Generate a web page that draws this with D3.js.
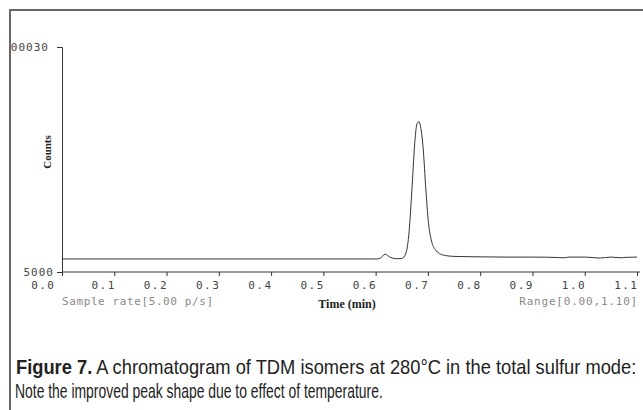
<!DOCTYPE html>
<html>
<head>
<meta charset="utf-8">
<script src="https://cdn.jsdelivr.net/npm/d3@7"></script>
<style>
  body { margin: 0; background: #fff; }
  svg { display: block; }
</style>
</head>
<body>
<div id="chart"></div>
<script>

// chromatogram readings, time in min and counts
var times  = [0.00, 0.600, 0.608, 0.618, 0.628, 0.640, 0.650, 0.658, 0.664, 0.670, 0.675, 0.679, 0.683, 0.687, 0.691, 0.696, 0.701, 0.707, 0.714, 0.722, 0.735, 0.75, 0.80, 0.85, 0.90, 0.95, 0.96, 0.97, 1.00, 1.02, 1.03, 1.05, 1.07, 1.08, 1.10];
var counts = [10500, 10500, 10700, 12500, 11200, 10600, 10700, 13000, 22000, 42000, 60000, 67500, 68500, 65000, 57000, 40000, 26000, 18000, 14500, 12800, 11900, 11600, 11400, 11300, 11300, 11100, 11000, 11300, 11300, 11000, 10900, 11300, 11000, 11200, 11300];

var xTicks = [0, 0.1, 0.2, 0.3, 0.4, 0.5, 0.6, 0.7, 0.8, 0.9, 1.0, 1.1];
var yTicks = [5000, 100030];

var captionBold = "Figure 7.";
var captionRest = " A chromatogram of TDM isomers at 280°C in the total sulfur mode:";
var captionLine2 = "Note the improved peak shape due to effect of temperature.";

var width = 643, height = 410;
var margin = {top: 47, right: 5, bottom: 138, left: 62};

var svg = d3.select("#chart").append("svg")
  .attr("width", width)
  .attr("height", height);

svg.append("rect").attr("width", width).attr("height", height).attr("fill", "#fff");

// chart content is clipped at the frame border
svg.append("clipPath").attr("id", "frameclip")
  .append("rect").attr("x", 11).attr("y", 11).attr("width", width).attr("height", 300);

var g = svg.append("g").attr("clip-path", "url(#frameclip)");

var x = d3.scaleLinear().domain([0, 1.1]).range([margin.left, 637]);
var y = d3.scaleLinear().domain([5000, 100030]).range([272, margin.top]);

var mono = "'DejaVu Sans Mono', monospace";

// y axis
var yAxis = g.append("g")
  .attr("transform", "translate(" + margin.left + ",0)")
  .call(d3.axisLeft(y).tickValues(yTicks).tickSize(5).tickPadding(3).tickFormat(d3.format("d")));
yAxis.select(".domain").attr("stroke", "#333");
yAxis.selectAll(".tick line").attr("stroke", "#333");
yAxis.selectAll(".tick text")
  .attr("font-family", mono)
  .attr("font-size", 11)
  .attr("letter-spacing", 1)
  .attr("fill", "#444")
  .attr("dx", function(d) { return d == 5000 ? 0 : -5; });

// x axis
var xAxis = g.append("g")
  .attr("transform", "translate(0,272)")
  .call(d3.axisBottom(x).tickValues(xTicks).tickSize(4).tickSizeOuter(0).tickPadding(5).tickFormat(d3.format(".1f")));
xAxis.select(".domain").attr("stroke", "#333").attr("d", "M" + margin.left + ",0H640");
xAxis.selectAll(".tick line").attr("stroke", "#333");
xAxis.selectAll(".tick text")
  .attr("font-family", mono)
  .attr("font-size", 11)
  .attr("letter-spacing", 1.5)
  .attr("fill", "#444")
  .attr("text-anchor", "end")
  .attr("dx", function(d, i) { return i == 0 ? -7 : 1; });

// trace
var line = d3.line()
  .x(function(d, i) { return x(times[i]); })
  .y(function(d) { return y(d); })
  .curve(d3.curveMonotoneX);

g.append("path")
  .datum(counts)
  .attr("fill", "none")
  .attr("stroke", "#333")
  .attr("stroke-width", 1)
  .attr("d", line);

// axis titles and instrument notes
g.append("text")
  .attr("x", 62).attr("y", 305)
  .attr("font-family", mono).attr("font-size", 11).attr("letter-spacing", 0.6)
  .attr("fill", "#888")
  .text("Sample rate[5.00 p/s]");

g.append("text")
  .attr("x", 638).attr("y", 305)
  .attr("text-anchor", "end")
  .attr("font-family", mono).attr("font-size", 11).attr("letter-spacing", 0.8)
  .attr("fill", "#888")
  .text("Range[0.00,1.10]");

g.append("text")
  .attr("x", 347).attr("y", 308)
  .attr("text-anchor", "middle")
  .attr("font-family", "'Liberation Serif', serif").attr("font-weight", "bold").attr("font-size", 12)
  .attr("fill", "#222")
  .text("Time (min)");

g.append("text")
  .attr("transform", "translate(51,152) rotate(-90)")
  .attr("text-anchor", "middle")
  .attr("font-family", "'Liberation Serif', serif").attr("font-weight", "bold").attr("font-size", 11)
  .attr("fill", "#222")
  .text("Counts");

// caption: each line condensed by a horizontal scale to its width
var capFont = "'Liberation Sans', sans-serif";

function fitLine(sel, left, baseline, w) {
  var s = w / sel.node().getComputedTextLength();
  sel.attr("transform", "translate(" + left + "," + baseline + ") scale(" + s + ",1)");
}

var cap = svg.append("text")
  .attr("font-family", capFont)
  .attr("font-size", 20)
  .attr("fill", "#222");
cap.append("tspan").attr("font-weight", "bold").text(captionBold);
cap.append("tspan").text(captionRest);
fitLine(cap, 16, 374, 621);

var line2 = svg.append("text")
  .attr("font-family", capFont)
  .attr("font-size", 20)
  .attr("fill", "#222")
  .text(captionLine2);
fitLine(line2, 15, 398, 368);

// frame border
svg.append("path")
  .attr("d", "M10," + height + "V10H" + width)
  .attr("fill", "none")
  .attr("stroke", "#666")
  .attr("stroke-width", 2);

</script>
</body>
</html>
